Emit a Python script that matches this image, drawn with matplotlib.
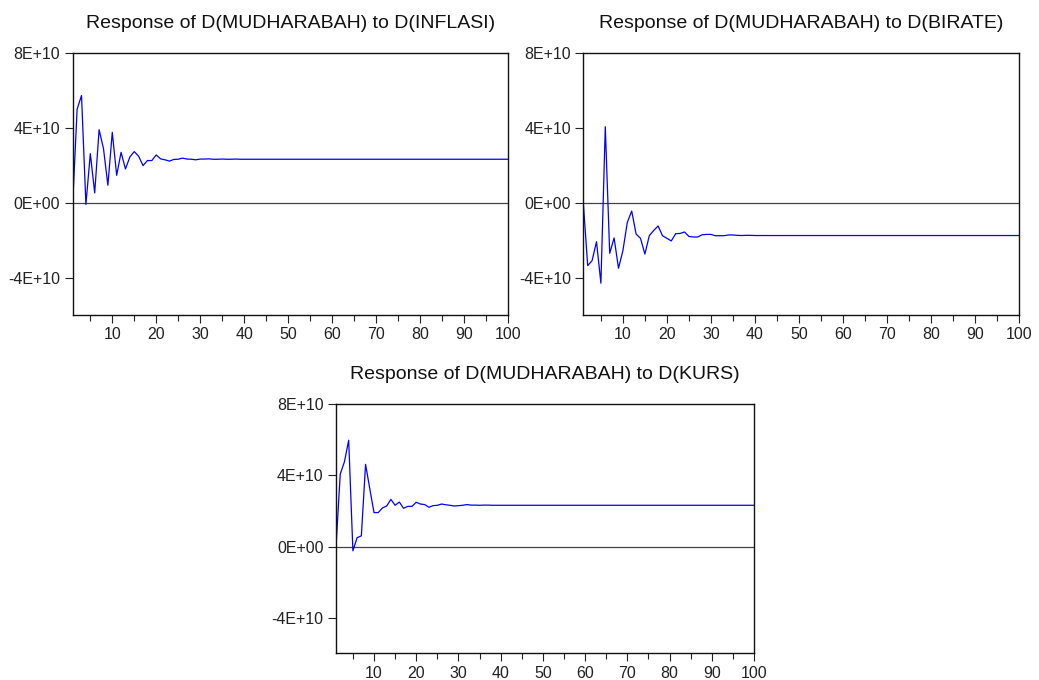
import numpy as np
import matplotlib
matplotlib.use("Agg")
import matplotlib.pyplot as plt
from matplotlib.ticker import FixedLocator, FuncFormatter

plt.rcParams['font.family'] = ['Liberation Sans', 'DejaVu Sans']

# impulse responses, in units of 1E+10, periods 1..100
periods = np.arange(1, 101)

inflasi = [0.00, 5.01, 5.74, -0.09, 2.63, 0.53, 3.91, 2.90, 0.94, 3.77,
           1.47, 2.70, 1.81, 2.45, 2.74, 2.49, 1.99, 2.26, 2.26, 2.56,
           2.35, 2.30, 2.23, 2.32, 2.33, 2.39, 2.34, 2.33, 2.30, 2.34,
           2.34, 2.35, 2.33, 2.33, 2.34, 2.33, 2.33, 2.34, 2.33, 2.33] + [2.33] * 60

birate = [0.00, -3.36, -3.09, -2.08, -4.30, 4.07, -2.70, -1.88, -3.50, -2.56,
          -1.05, -0.44, -1.67, -1.90, -2.74, -1.76, -1.48, -1.24, -1.76, -1.90,
          -2.04, -1.65, -1.64, -1.56, -1.80, -1.83, -1.83, -1.71, -1.69, -1.69,
          -1.76, -1.76, -1.76, -1.72, -1.72, -1.74, -1.75, -1.74, -1.74, -1.75] + [-1.75] * 60

kurs = [0.00, 4.07, 4.77, 5.98, -0.24, 0.50, 0.60, 4.62, 3.25, 1.91,
        1.91, 2.17, 2.28, 2.65, 2.32, 2.50, 2.15, 2.26, 2.26, 2.49,
        2.39, 2.36, 2.21, 2.30, 2.32, 2.39, 2.35, 2.32, 2.28, 2.30,
        2.32, 2.36, 2.33, 2.33, 2.32, 2.33, 2.33, 2.32, 2.32, 2.32] + [2.32] * 60

titles = ["Response of D(MUDHARABAH) to D(INFLASI)",
          "Response of D(MUDHARABAH) to D(BIRATE)",
          "Response of D(MUDHARABAH) to D(KURS)"]
series = [inflasi, birate, kurs]
ytick_vals = [-4e10, 0, 4e10, 8e10]
ytick_labels = {-4e10: "-4E+10", 0: "0E+00", 4e10: "4E+10", 8e10: "8E+10"}

fig = plt.figure(figsize=(10.39, 6.8), dpi=100)
positions = [[0.0700, 0.5368, 0.4187, 0.3849],
             [0.5614, 0.5368, 0.4193, 0.3849],
             [0.3234, 0.0393, 0.4023, 0.3662]]

for pos, title, vals in zip(positions, titles, series):
    ax = fig.add_axes(pos)
    ax.plot(periods, np.array(vals) * 1e10, color='#0000ff', lw=0.9)
    ax.axhline(0, color='#444444', lw=0.9, zorder=1)
    ax.set_xlim(1, 100)
    ax.set_ylim(-6e10, 8e10)
    ax.xaxis.set_major_locator(FixedLocator(range(10, 101, 10)))
    ax.xaxis.set_minor_locator(FixedLocator(range(5, 100, 10)))
    ax.yaxis.set_major_locator(FixedLocator(ytick_vals))
    ax.yaxis.set_major_formatter(FuncFormatter(lambda v, p: ytick_labels.get(v, "")))
    ax.tick_params(axis='both', which='major', direction='out', length=6,
                   width=0.8, labelsize=11.5, colors='#222222', pad=3)
    ax.tick_params(axis='x', which='minor', direction='out', length=4, width=0.8,
                   colors='#222222')
    ax.tick_params(top=False, right=False)
    for s in ax.spines.values():
        s.set_linewidth(1.0)
        s.set_color('#111111')
    ax.set_title(title, fontsize=14, pad=18, color='#111111')

fig.savefig("out.png", dpi=100)
